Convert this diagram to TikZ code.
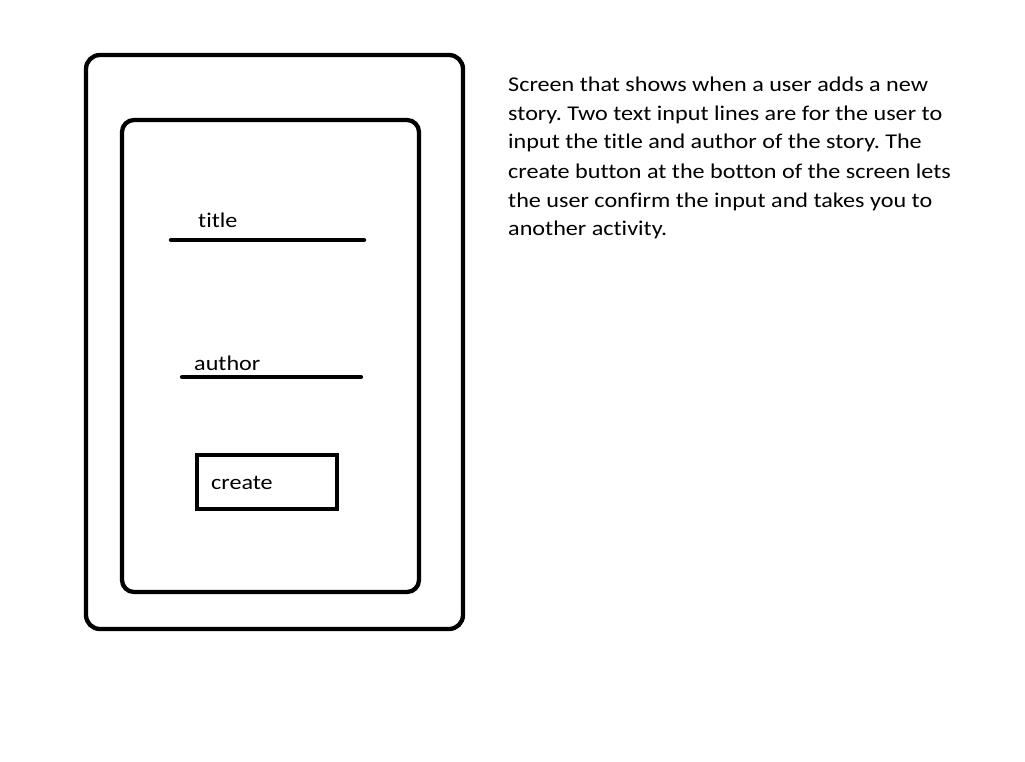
\documentclass[tikz,border=0pt]{standalone}
\usepackage{fontspec}
\setmainfont[FakeStretch=1.15,Ligatures=NoCommon]{Carlito}
\frenchspacing
\begin{document}
\begin{tikzpicture}[x=1pt,y=-1pt,
  frame/.style={draw=black,line width=4.3pt,rounded corners=14pt},
  inputline/.style={draw=black,line width=4.3pt,line cap=round},
  lbl/.style={inner sep=0pt,anchor=base west,font=\fontsize{21}{24}\selectfont}]
\useasboundingbox (0,0) rectangle (1025,762);
% outer device frame and inner screen
\draw[frame] (86,55) rectangle (463,629);
\draw[frame,rounded corners=12pt] (122,120) rectangle (419,592);
% title input
\node[lbl] (title) at (198,227) {title};
\draw[inputline] (171,240) -- (364,240);
% author input
\node[lbl] (author) at (194,370) {author};
\draw[inputline] (182,377) -- (361,377);
% create button
\draw[draw=black,line width=4.3pt] (197,455) rectangle (337,509);
\node[lbl] (create) at (211,489) {create};
% description
\node[inner sep=0pt,anchor=base west,align=left,font=\fontsize{21}{29}\selectfont] (desc) at (508,236)
{Screen that shows when a user adds a new\\
story. Two text input lines are for the user to\\
input the title and author of the story. The\\
create button at the botton of the screen lets\\
the user confirm the input and takes you to\\
another activity.};
\end{tikzpicture}
\end{document}
